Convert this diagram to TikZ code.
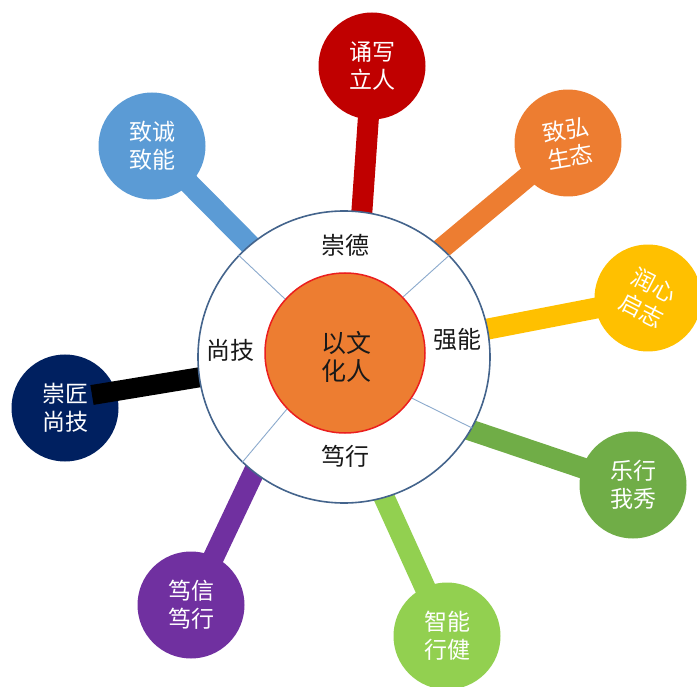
\documentclass[tikz,border=0pt]{standalone}
\usepackage{fontspec}
\newfontfamily\cjk{Noto Sans CJK SC}
\usetikzlibrary{calc}
\pgfdeclarelayer{back}
\pgfdeclarelayer{mid}
\pgfsetlayers{back,mid,main}
\definecolor{cRed}{HTML}{C00000}
\definecolor{cBlue}{HTML}{5B9BD5}
\definecolor{cOrange}{HTML}{ED7D31}
\definecolor{cYellow}{HTML}{FFC000}
\definecolor{cGreen}{HTML}{70AD47}
\definecolor{cLime}{HTML}{92D050}
\definecolor{cPurple}{HTML}{7030A0}
\definecolor{cNavy}{HTML}{002060}
\definecolor{cRing}{RGB}{68,100,140}
\definecolor{cDiv}{RGB}{140,170,205}
\definecolor{cInnerLine}{RGB}{235,30,30}
\definecolor{cText}{RGB}{25,25,25}
\begin{document}
\begin{tikzpicture}[x=1pt,y=-1pt,
  sat/.style={circle, minimum size=107pt, inner sep=0pt, text=white,
    font=\cjk\fontsize{23}{28}\selectfont, align=center},
  stalk/.style={line width=21pt},
  ringlabel/.style={inner sep=0pt, text=cText, font=\cjk\fontsize{24}{28}\selectfont},
  outerc/.style={circle, minimum size=292pt, inner sep=0pt, fill=white, draw=cRing, line width=1.6pt},
  innerc/.style={circle, minimum size=160pt, inner sep=0pt, fill=cOrange, draw=cInnerLine, line width=1.5pt},
  divider/.style={draw=cDiv, line width=0.9pt},
  ctext/.style={inner sep=0pt, text=cText, align=center, font=\cjk\fontsize{25}{28}\selectfont}]
\useasboundingbox (0,0) rectangle (697,687);

% big ring
\node[outerc] (outer) at (344,357) {};

% satellites
\begin{pgfonlayer}{mid}
\node[sat, fill=cRed] (s1) at (372,66) {诵写\\立人};
\node[sat, fill=cOrange, rotate=10] (s2) at (568,143) {致弘\\生态};
\node[sat, fill=cYellow, rotate=-27] (s3) at (648,298) {润心\\启志};
\node[sat, fill=cGreen] (s4) at (633,485) {乐行\\我秀};
\node[sat, fill=cLime] (s5) at (447,636) {智能\\行健};
\node[sat, fill=cPurple] (s6) at (191,605) {笃信\\笃行};
\node[sat, fill=cNavy] (s7) at (65,408) {崇匠\\尚技};
\node[sat, fill=cBlue] (s8) at (152,146) {致诚\\致能};
\coordinate (bk) at (92,395);
\draw[stalk, line width=20pt, black] (bk) -- ($(bk)!1.06!(outer.188)$);
\end{pgfonlayer}

% stalks
\begin{pgfonlayer}{back}
\draw[stalk, cRed] (s1.center) -- ($(s1.center)!1.06!(outer.83)$);
\draw[stalk, cOrange] (s2.center) -- ($(s2.center)!1.06!(outer.48)$);
\draw[stalk, cYellow] (s3.center) -- ($(s3.center)!1.06!(outer.11)$);
\draw[stalk, cGreen] (s4.center) -- ($(s4.center)!1.06!(outer.330)$);
\draw[stalk, cLime] (s5.center) -- ($(s5.center)!1.06!(outer.286)$);
\draw[stalk, cPurple] (s6.center) -- ($(s6.center)!1.06!(outer.232)$);
\draw[stalk, cBlue] (s8.center) -- ($(s8.center)!1.06!(outer.130)$);
\end{pgfonlayer}

% inner circle
\node[innerc] (inner) at (345,353) {};
\node[ctext] (ct) at (346,357) {以文\\化人};

% dividers
\draw[divider] (inner.138) -- (outer.136);
\draw[divider] (inner.44) -- (outer.44);
\draw[divider] (inner.326) -- (outer.331);
\draw[divider] (inner.224) -- (outer.226);

% ring labels
\node[ringlabel] (l1) at (345,245) {崇德};
\node[ringlabel] (l2) at (457,339) {强能};
\node[ringlabel] (l3) at (230,350) {尚技};
\node[ringlabel] (l4) at (345,456) {笃行};
\end{tikzpicture}
\end{document}
